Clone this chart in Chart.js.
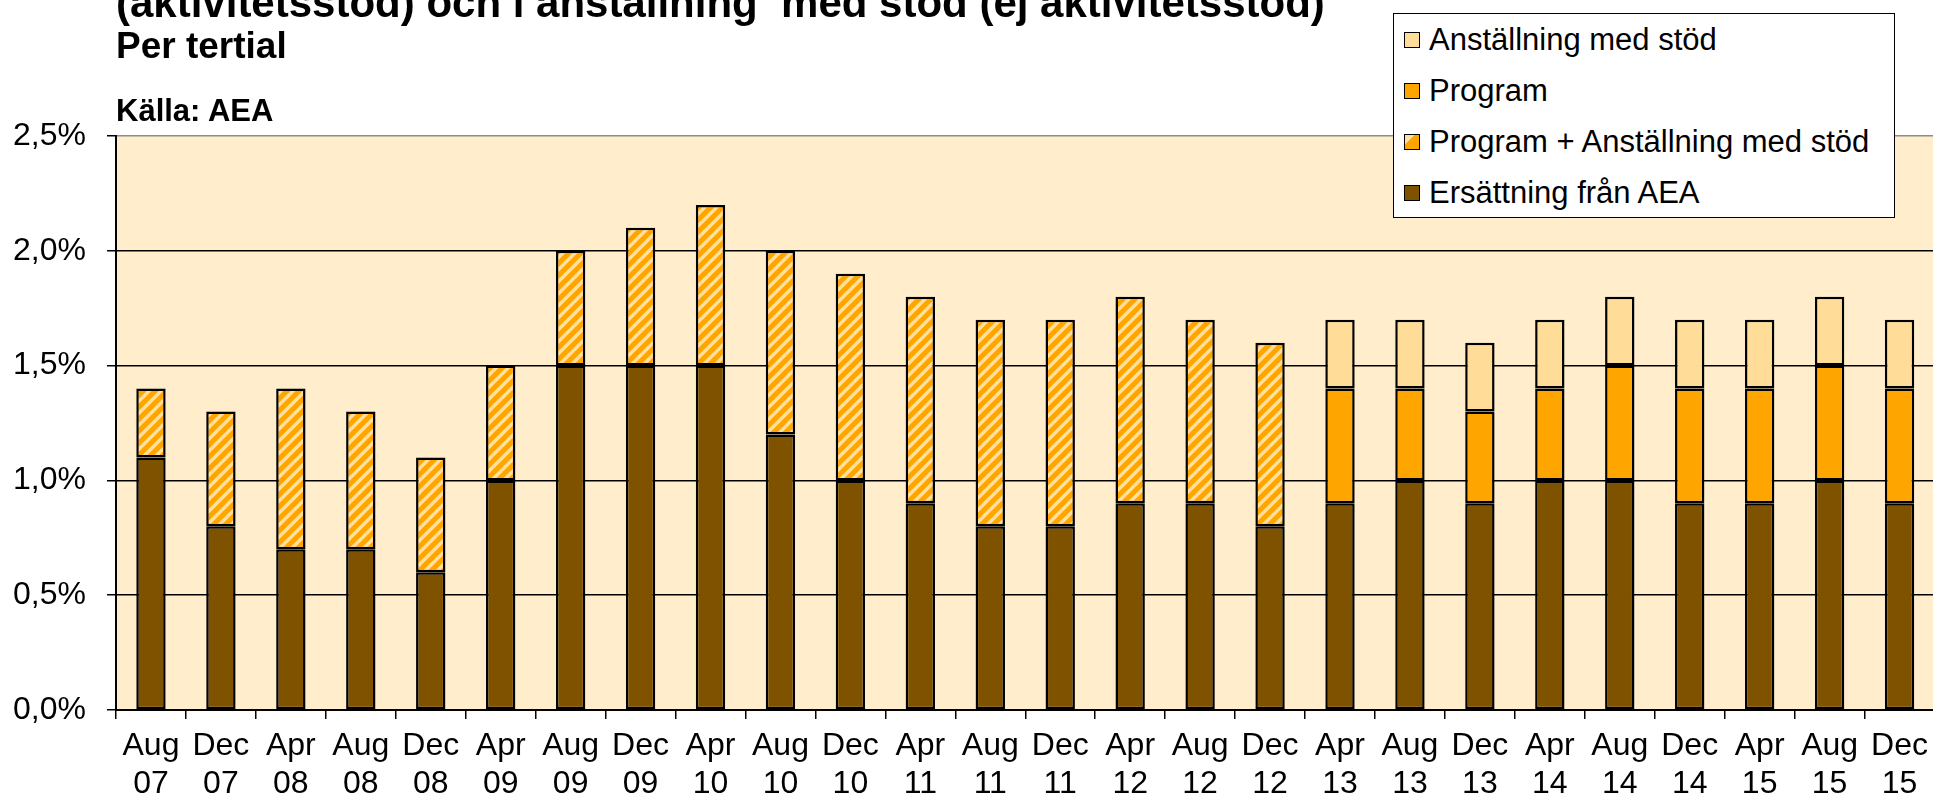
<!DOCTYPE html>
<html>
<head>
<meta charset="utf-8">
<script src="https://cdn.jsdelivr.net/npm/chart.js@4.4.1/dist/chart.umd.min.js"></script>
<style>
  html, body { margin: 0; padding: 0; background: #fff; overflow: hidden; width: 1933px; height: 799px; }
  body { position: relative; font-family: 'Liberation Sans', Arial, sans-serif; color: #000; }
  #wrap { position: absolute; left: 0; top: 0; width: 1936px; height: 799px; }
  .title1 { position: absolute; left: 116px; top: -18px; font-weight: bold; font-size: 42px; line-height: 42px; white-space: pre; }
  .title2 { position: absolute; left: 116px; top: 27px; font-weight: bold; font-size: 37px; line-height: 37px; white-space: nowrap; }
  .source { position: absolute; left: 116px; top: 95px; font-weight: bold; font-size: 31px; line-height: 31px; white-space: nowrap; }
  #legend { position: absolute; left: 1393px; top: 13px; width: 500px; height: 203px; border: 1.5px solid #000; background: #fff; }
  .row { height: 51px; display: flex; align-items: center; font-size: 31px; padding-left: 10px; white-space: nowrap; }
  .sw { width: 14px; height: 14px; border: 1.5px solid #000; margin-right: 9px; flex: none; }
</style>
</head>
<body>
<div id="wrap"><canvas id="chart"></canvas></div>
<div class="title1">(aktivitetsstöd) och i anställning  med stöd (ej aktivitetsstöd)</div>
<div class="title2">Per tertial</div>
<div class="source">Källa: AEA</div>
<div id="legend"></div>
<script>
// tertial labels
const labels = [
  ['Aug', '07'], ['Dec', '07'],
  ['Apr', '08'], ['Aug', '08'], ['Dec', '08'],
  ['Apr', '09'], ['Aug', '09'], ['Dec', '09'],
  ['Apr', '10'], ['Aug', '10'], ['Dec', '10'],
  ['Apr', '11'], ['Aug', '11'], ['Dec', '11'],
  ['Apr', '12'], ['Aug', '12'], ['Dec', '12'],
  ['Apr', '13'], ['Aug', '13'], ['Dec', '13'],
  ['Apr', '14'], ['Aug', '14'], ['Dec', '14'],
  ['Apr', '15'], ['Aug', '15'], ['Dec', '15']
];

// share of population, percent
const ersattning = [1.1, 0.8, 0.7, 0.7, 0.6, 1.0, 1.5, 1.5, 1.5, 1.2, 1.0, 0.9, 0.8, 0.8, 0.9, 0.9, 0.8,
  0.9, 1.0, 0.9, 1.0, 1.0, 0.9, 0.9, 1.0, 0.9];
const programAnst = [0.3, 0.5, 0.7, 0.6, 0.5, 0.5, 0.5, 0.6, 0.7, 0.8, 0.9, 0.9, 0.9, 0.9, 0.9, 0.8, 0.8,
  null, null, null, null, null, null, null, null, null];
const program = [null, null, null, null, null, null, null, null, null, null, null, null, null, null, null, null, null,
  0.5, 0.4, 0.4, 0.4, 0.5, 0.5, 0.5, 0.5, 0.5];
const anstallning = [null, null, null, null, null, null, null, null, null, null, null, null, null, null, null, null, null,
  0.3, 0.3, 0.3, 0.3, 0.3, 0.3, 0.3, 0.3, 0.3];

const yTicks = [0, 0.5, 1.0, 1.5, 2.0, 2.5];

const BROWN = '#7f5200';
const ORANGE = '#ffa500';
const LIGHT = '#ffdc98';
const STRIPE = '#ffdfa2';
const PLOT_BG = '#ffedcc';

// diagonal hatch for "Program + Anställning med stöd"
function makeHatch() {
  const size = 12;
  const c = document.createElement('canvas');
  c.width = size; c.height = size;
  const g = c.getContext('2d');
  g.fillStyle = ORANGE;
  g.fillRect(0, 0, size, size);
  g.strokeStyle = STRIPE;
  g.lineWidth = 3.4;
  g.beginPath();
  g.moveTo(-2, size + 2); g.lineTo(size + 2, -2);
  g.moveTo(-2, 2); g.lineTo(2, -2);
  g.moveTo(size - 2, size + 2); g.lineTo(size + 2, size - 2);
  g.stroke();
  return g.createPattern(c, 'repeat');
}

const hatch = makeHatch();

const plotBackground = {
  id: 'plotBackground',
  beforeDraw(chart) {
    const { ctx, chartArea } = chart;
    ctx.save();
    ctx.fillStyle = PLOT_BG;
    ctx.fillRect(chartArea.left, chartArea.top, chartArea.right - chartArea.left, chartArea.bottom - chartArea.top);
    ctx.restore();
  }
};

Chart.defaults.font.family = "'Liberation Sans', Arial, sans-serif";
Chart.defaults.color = '#000';

const barStyle = {
  borderColor: '#000',
  borderWidth: 2.5,
  borderSkipped: false,
  barPercentage: 0.42,
  categoryPercentage: 1.0
};

const datasets = [
  { label: 'Ersättning från AEA', data: ersattning, backgroundColor: BROWN, ...barStyle },
  { label: 'Program + Anställning med stöd', data: programAnst, backgroundColor: hatch, ...barStyle },
  { label: 'Program', data: program, backgroundColor: ORANGE, ...barStyle },
  { label: 'Anställning med stöd', data: anstallning, backgroundColor: LIGHT, ...barStyle }
];

const ctx = document.getElementById('chart').getContext('2d');
const chart = new Chart(ctx, {
  type: 'bar',
  data: { labels: labels, datasets: datasets },
  options: {
    responsive: true,
    maintainAspectRatio: false,
    animation: false,
    layout: { padding: { top: 136, right: 0, left: 0, bottom: 0 } },
    plugins: {
      legend: { display: false },
      tooltip: { enabled: false }
    },
    scales: {
      x: {
        stacked: true,
        offset: true,
        grid: {
          offset: true,
          drawOnChartArea: false,
          drawTicks: true,
          tickLength: 9,
          tickColor: '#000',
          lineWidth: 1.5
        },
        border: { color: '#000', width: 2 },
        ticks: {
          autoSkip: false,
          maxRotation: 0,
          minRotation: 0,
          padding: 8,
          font: { size: 32, lineHeight: 1.2 }
        },
        afterFit(scale) { scale.height = 89; }
      },
      y: {
        stacked: true,
        min: 0,
        max: 2.5,
        afterBuildTicks(scale) { scale.ticks = yTicks.map(v => ({ value: v })); },
        grid: {
          color: ctx => (ctx.tick && ctx.tick.value === 2.5) ? '#8c8c8c' : '#000',
          tickColor: '#000',
          lineWidth: 1.5,
          tickLength: 9
        },
        border: { color: '#000', width: 2 },
        ticks: {
          padding: 21,
          font: { size: 32 },
          callback: v => v.toFixed(1).replace('.', ',') + '%'
        },
        afterFit(scale) { scale.width = 116; }
      }
    }
  },
  plugins: [plotBackground]
});

// legend, top entry = top of stack
const legendEl = document.getElementById('legend');
const swatchCss = {
  'Anställning med stöd': LIGHT,
  'Program': ORANGE,
  'Program + Anställning med stöd': 'linear-gradient(135deg, ' + STRIPE + ' 0 35%, ' + ORANGE + ' 35% 100%)',
  'Ersättning från AEA': BROWN
};
datasets.slice().reverse().forEach(ds => {
  const row = document.createElement('div');
  row.className = 'row';
  const sw = document.createElement('span');
  sw.className = 'sw';
  sw.style.background = swatchCss[ds.label];
  const txt = document.createElement('span');
  txt.textContent = ds.label;
  row.appendChild(sw);
  row.appendChild(txt);
  legendEl.appendChild(row);
});
</script>
</body>
</html>
